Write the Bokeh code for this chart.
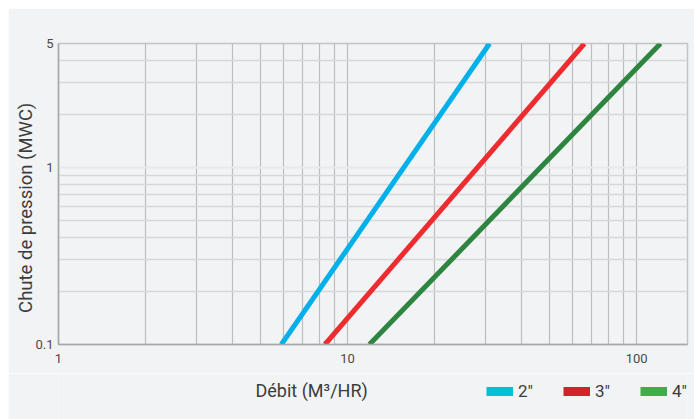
from bokeh.plotting import figure
from bokeh.layouts import column
from bokeh.models import FixedTicker, Legend, LegendItem, Title, Label
from bokeh.embed import file_html
from bokeh.resources import INLINE

# ---- data ----
series_names = ["2\u2033", "3\u2033", "4\u2033"]
flow_2in = [5.9, 31.0]       # m3/h
drop_2in = [0.1, 5.0]        # MWC
flow_3in = [8.35, 66.0]
drop_3in = [0.1, 5.0]
flow_4in = [11.9, 121.0]
drop_4in = [0.1, 5.0]

x_major = [1, 10, 100]
x_minor = [2, 3, 4, 5, 6, 7, 8, 9, 20, 30, 40, 50, 60, 70, 80, 90]
y_major = [0.1, 1, 5]
y_minor = [0.2, 0.3, 0.4, 0.5, 0.6, 0.7, 0.8, 0.9, 2, 3, 4]
x_title = "Débit (M³/HR)"
y_title = "Chute de pression (MWC)"

line_colors = ["#00b0ea", "#ee2b2f", "#2e8540"]
legend_colors = ["#06bddc", "#d1232a", "#3dae49"]

BG = "#f2f3f5"
FONT = "Roboto"
TXT = "#3c3c3c"

p = figure(width=686, height=365, x_axis_type="log", y_axis_type="log",
           x_range=(1, 150), y_range=(0.1, 5),
           output_backend="svg", toolbar_location=None,
           min_border_left=50, min_border_right=7, min_border_top=35, min_border_bottom=29)
p.background_fill_color = BG
p.border_fill_color = BG
p.outline_line_color = "#c4c4c4"
p.outline_line_width = 1.5

# axes
p.xaxis.ticker = FixedTicker(ticks=x_major, minor_ticks=x_minor)
p.yaxis.ticker = FixedTicker(ticks=y_major, minor_ticks=y_minor)
p.xaxis.major_label_overrides = {v: str(v) for v in x_major}
p.yaxis.major_label_overrides = {0.1: "0.1", 1: "1", 5: "5"}
for ax in (p.xaxis, p.yaxis):
    ax.major_tick_line_color = None
    ax.minor_tick_line_color = None
    ax.major_tick_out = 0
    ax.major_tick_in = 0
    ax.minor_tick_out = 0
    ax.minor_tick_in = 0
    ax.axis_line_color = "#a8a8a8"
    ax.axis_line_width = 1.5
    ax.major_label_text_font = FONT
    ax.major_label_text_font_size = "13px"
    ax.major_label_text_color = "#4a4a4a"
p.xaxis.major_label_standoff = 9
p.yaxis.major_label_standoff = 5

# grids
p.xgrid.ticker = FixedTicker(ticks=x_major, minor_ticks=x_minor)
p.ygrid.ticker = FixedTicker(ticks=y_major, minor_ticks=y_minor)
p.xgrid.grid_line_color = "#bdbdbd"
p.xgrid.grid_line_width = 1.2
p.xgrid.minor_grid_line_color = "#bdbdbd"
p.xgrid.minor_grid_line_width = 1.2
p.ygrid.grid_line_color = "#e9e9ea"
p.ygrid.grid_line_width = 2
p.ygrid.minor_grid_line_color = "#d8d8d8"
p.ygrid.minor_grid_line_width = 1.6
p.ygrid.level = "underlay"
p.xgrid.level = "underlay"

# lines
flows = [flow_2in, flow_3in, flow_4in]
drops = [drop_2in, drop_3in, drop_4in]
for fx, dy, c in zip(flows, drops, line_colors):
    p.line(fx, dy, line_color=c, line_width=5)

# y title in the left panel
p.add_layout(Title(text=y_title, align="left", offset=31.6, vertical_align="bottom",
                   standoff=-8, text_font=FONT, text_font_size="18.5px",
                   text_font_style="normal", text_color=TXT), "left")

# ---- bottom strip: x title + legend (frame aligned with the main plot) ----
p2 = figure(width=686, height=46, x_range=(0, 1), y_range=(0, 1),
            output_backend="svg", toolbar_location=None,
            x_axis_location=None, y_axis_location=None,
            min_border=0)
p2.background_fill_color = BG
p2.border_fill_color = BG
p2.outline_line_color = None
p2.grid.visible = False

p2.add_layout(Label(x=197, y=29, x_units="screen", y_units="screen",
                    text=x_title, text_font=FONT, text_font_size="18px",
                    text_color=TXT, text_align="left", text_baseline="middle"))

nan = float("nan")
items = []
for name, c in zip(series_names, legend_colors):
    r = p2.line([nan], [nan], line_color=c, line_width=9)
    items.append(LegendItem(label=name, renderers=[r]))
lg = Legend(items=items, location=(428, 18), orientation="horizontal",
            padding=0, margin=0, spacing=30,
            glyph_width=27, glyph_height=20, label_height=20,
            label_width=12, label_standoff=5,
            border_line_color=None, background_fill_alpha=0,
            label_text_font=FONT, label_text_font_size="17px",
            label_text_font_style="normal",
            label_text_color=TXT)
p2.add_layout(lg, "center")

layout = column(p, p2, spacing=0)
layout.margin = (8, 0, 0, 8)

open("out.html", "w").write(file_html(layout, INLINE))
